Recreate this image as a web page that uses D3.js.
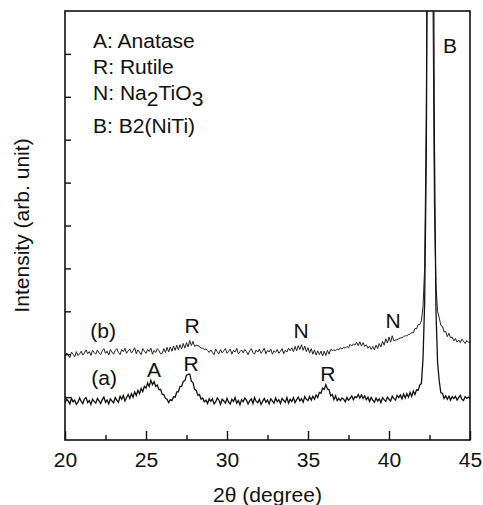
<!DOCTYPE html>
<html>
<head>
<meta charset="utf-8">
<script src="https://cdn.jsdelivr.net/npm/d3@7"></script>
<style>
  body { margin: 0; background: #fff; }
  svg text { font-family: "Liberation Sans", Arial, sans-serif; fill: #111; }
</style>
</head>
<body>
<div id="chart"></div>
<script>
'use strict';

/*
--------------------------------------------------------------
--- DATA
--------------------------------------------------------------
*/

var startAngle = 20; // first 2theta value of the scans
var angleStep = 0.1; // step of the scans

// (a) intensity, one row per degree (20.0 - 44.9), last value at 45.0
var scanA = [
  0.86, 0.95, 0.91, 0.84, 0.97, 0.89, 0.93, 0.83, 0.88, 0.98,
  0.90, 0.85, 0.96, 0.99, 0.87, 0.92, 0.83, 0.95, 0.90, 0.86,
  0.97, 0.91, 0.85, 0.94, 1.00, 0.88, 0.93, 0.84, 0.96, 0.91,
  0.87, 0.99, 0.93, 0.88, 1.02, 0.95, 1.04, 0.91, 0.99, 1.06,
  0.97, 1.08, 1.00, 1.12, 1.04, 1.16, 1.08, 1.20, 1.13, 1.25,
  1.21, 1.33, 1.25, 1.39, 1.29, 1.36, 1.25, 1.28, 1.17, 1.18,
  1.07, 1.06, 0.97, 0.95, 0.87, 0.94, 0.92, 1.01, 1.00, 1.12,
  1.12, 1.25, 1.25, 1.37, 1.38, 1.51, 1.53, 1.54, 1.37, 1.34,
  1.18, 1.16, 1.04, 1.06, 0.95, 0.98, 0.89, 0.93, 0.85, 0.96,
  0.90, 0.96, 0.84, 0.89, 0.98, 0.93, 0.83, 0.95, 0.91, 0.86,
  0.97, 0.88, 0.84, 0.95, 0.90, 0.99, 0.86, 0.92, 0.82, 0.94,
  0.89, 0.98, 0.93, 0.84, 0.91, 0.96, 0.85, 0.99, 0.90, 0.87,
  0.95, 0.83, 0.90, 0.97, 0.88, 0.93, 0.84, 0.96, 0.91, 0.86,
  0.98, 0.89, 0.94, 0.85, 0.97, 0.92, 0.88, 0.99, 0.86, 0.95,
  0.90, 0.99, 0.87, 0.94, 1.00, 0.91, 0.96, 0.88, 1.01, 0.95,
  0.92, 1.01, 0.93, 1.02, 0.95, 1.05, 0.99, 1.11, 1.09, 1.21,
  1.18, 1.29, 1.19, 1.17, 1.03, 1.06, 0.94, 1.03, 0.92, 0.97,
  0.92, 0.98, 0.95, 0.89, 0.99, 0.93, 0.97, 1.03, 0.94, 1.01,
  0.99, 1.06, 0.98, 1.05, 0.97, 1.03, 0.94, 1.00, 0.90, 0.99,
  0.93, 0.88, 0.98, 0.91, 0.96, 0.87, 0.99, 0.94, 0.90, 1.00,
  0.95, 0.91, 1.02, 0.97, 0.93, 1.04, 0.99, 1.05, 0.96, 1.07,
  0.98, 1.08, 1.00, 1.11, 1.02, 1.14, 1.06, 1.17, 1.16, 1.28,
  1.32, 1.90, 3.20, 6.50, 14.0, 25.0, 28.0, 16.0, 7.00, 3.00,
  1.80, 1.38, 1.10, 1.09, 0.97, 1.03, 0.95, 1.02, 0.93, 1.01,
  0.97, 1.02, 0.93, 0.99, 1.04, 0.95, 0.92, 1.01, 0.97, 1.00,
  0.96
];

// (b) intensity, same grid
var scanB = [
  1.95, 2.03, 1.98, 1.92, 2.05, 2.00, 1.94, 2.06, 1.97, 2.01,
  2.07, 1.98, 2.03, 2.10, 2.01, 2.06, 1.97, 2.09, 2.04, 2.00,
  2.10, 2.03, 1.99, 2.08, 2.13, 2.02, 2.07, 1.98, 2.11, 2.05,
  2.00, 2.09, 2.13, 2.04, 1.99, 2.11, 2.06, 2.14, 2.02, 2.08,
  2.12, 2.03, 2.08, 2.15, 2.01, 2.10, 2.05, 1.99, 2.13, 2.07,
  2.02, 2.11, 2.06, 2.14, 2.00, 2.09, 2.04, 2.13, 2.08, 2.01,
  2.02, 2.13, 2.04, 2.16, 2.05, 2.17, 2.07, 2.19, 2.09, 2.21,
  2.10, 2.22, 2.12, 2.25, 2.14, 2.27, 2.17, 2.32, 2.20, 2.30,
  2.18, 2.21, 2.20, 2.18, 2.14, 2.14, 2.11, 2.12, 2.09, 2.04,
  2.10, 2.04, 1.99, 2.12, 2.06, 2.01, 2.11, 2.03, 2.08, 2.13,
  2.02, 2.07, 2.12, 2.00, 2.09, 2.05, 2.14, 2.01, 2.06, 2.10,
  2.03, 2.11, 2.06, 1.99, 2.08, 2.13, 2.04, 2.00, 2.10, 2.05,
  2.12, 2.02, 2.07, 2.14, 2.01, 2.09, 2.05, 2.12, 2.00, 2.08,
  2.04, 2.11, 2.02, 2.07, 2.13, 2.01, 2.09, 2.05, 2.14, 2.08,
  2.15, 2.06, 2.18, 2.08, 2.20, 2.11, 2.22, 2.09, 2.19, 2.06,
  2.15, 2.03, 2.13, 2.00, 2.10, 1.98, 2.08, 1.99, 2.07, 1.96,
  2.07, 1.97, 2.09, 2.00, 2.11, 2.09, 2.10, 2.08, 2.12, 2.10,
  2.15, 2.12, 2.16, 2.14, 2.18, 2.15, 2.23, 2.19, 2.24, 2.21,
  2.28, 2.20, 2.29, 2.19, 2.27, 2.18, 2.22, 2.14, 2.19, 2.11,
  2.18, 2.10, 2.21, 2.13, 2.25, 2.17, 2.30, 2.21, 2.36, 2.26,
  2.40, 2.28, 2.43, 2.31, 2.33, 2.34, 2.36, 2.38, 2.38, 2.41,
  2.43, 2.43, 2.46, 2.47, 2.50, 2.50, 2.60, 2.59, 2.69, 2.69,
  2.78, 3.10, 4.00, 7.50, 16.0, 30.0, 22.0, 11.0, 5.50, 3.60,
  3.00, 2.85, 2.67, 2.65, 2.52, 2.53, 2.41, 2.49, 2.38, 2.40,
  2.31, 2.37, 2.28, 2.33, 2.27, 2.35, 2.30, 2.25, 2.32, 2.28,
  2.27
];

var xMajorTicks = [20, 25, 30, 35, 40, 45];
var xMinorTicks = [22.5, 27.5, 32.5, 37.5, 42.5];
var yTicks = [1, 2, 3, 4, 5, 6, 7, 8, 9];

// peak labels, placed at [2theta, intensity]
var peakLabels = ['(b)', 'R', 'N', 'N', 'B', '(a)', 'A', 'R', 'R'];
var peakAngles = [22.35, 27.84, 34.57, 40.25, 43.77, 22.41, 25.49, 27.78, 36.23];
var peakLevels = [2.38, 2.49, 2.38, 2.61, 9.02, 1.28, 1.47, 1.61, 1.38];

/*
--------------------------------------------------------------
--- PROPERTIES
--------------------------------------------------------------
*/

var width = 483;
var height = 505;
var margin = {'top': 11, 'right': 13, 'bottom': 65, 'left': 65};
var stretch = 1.08; // the original font is a bit wider than Arial
var fontSize = 19.5;

var svg = d3.select('#chart').append('svg')
  .attr('width', width)
  .attr('height', height);

var x = d3.scaleLinear()
  .domain([20, 45])
  .range([margin.left, width - margin.right]);

var y = d3.scaleLinear()
  .domain([0, 10])
  .range([height - margin.bottom, margin.top]);

// turn a scan into points
var toPoints = function(scan) {
  return scan.map(function(v, i) {
    return [startAngle + i * angleStep, v];
  });
};

// writes a (slightly stretched) text
var addText = function(parent, str, px, py, anchor) {
  return parent.append('text')
    .attr('transform', 'translate(' + px + ',' + py + ') scale(' + stretch + ',1)')
    .attr('text-anchor', anchor || 'start')
    .style('font-size', fontSize + 'px')
    .text(str);
};

/*
--------------------------------------------------------------
--- DRAW
--------------------------------------------------------------
*/

svg.append('clipPath')
  .attr('id', 'plot-clip')
  .append('rect')
  .attr('x', margin.left)
  .attr('y', margin.top)
  .attr('width', width - margin.left - margin.right)
  .attr('height', height - margin.top - margin.bottom);

var line = d3.line()
  .x(function(d) { return x(d[0]); })
  .y(function(d) { return y(d[1]); });

var curves = svg.append('g').attr('clip-path', 'url(#plot-clip)');

curves.append('path')
  .datum(toPoints(scanB))
  .attr('d', line)
  .attr('fill', 'none')
  .attr('stroke', '#222')
  .attr('stroke-width', 1.0);

curves.append('path')
  .datum(toPoints(scanA))
  .attr('d', line)
  .attr('fill', 'none')
  .attr('stroke', '#111')
  .attr('stroke-width', 1.3);

// x axis, ticks pointing inward
var xAxis = svg.append('g')
  .attr('transform', 'translate(0,' + (height - margin.bottom) + ')')
  .call(d3.axisBottom(x).tickValues(xMajorTicks).tickSize(-9).tickPadding(13)
    .tickFormat(d3.format('d')));

xAxis.selectAll('text')
  .attr('transform', 'scale(' + stretch + ',1)')
  .style('font-size', fontSize + 'px')
  .attr('fill', '#111');

svg.append('g')
  .attr('transform', 'translate(0,' + (height - margin.bottom) + ')')
  .call(d3.axisBottom(x).tickValues(xMinorTicks).tickSize(-5).tickFormat(''));

svg.append('g')
  .attr('transform', 'translate(' + margin.left + ',0)')
  .call(d3.axisLeft(y).tickValues(yTicks).tickSize(-6).tickFormat(''));

svg.selectAll('.domain').remove();
svg.selectAll('.tick line').attr('stroke', '#111').attr('stroke-width', 1.4);

// frame
svg.append('rect')
  .attr('x', margin.left)
  .attr('y', margin.top)
  .attr('width', width - margin.left - margin.right)
  .attr('height', height - margin.top - margin.bottom)
  .attr('fill', 'none')
  .attr('stroke', '#111')
  .attr('stroke-width', 1.6);

// axis titles
addText(svg, '2\u03b8 (degree)', (margin.left + width - margin.right) / 2, 502, 'middle');

svg.append('text')
  .attr('transform', 'translate(29,' + ((margin.top + height - margin.bottom) / 2) + ') rotate(-90) scale(' + stretch + ',1)')
  .attr('text-anchor', 'middle')
  .style('font-size', fontSize + 'px')
  .text('Intensity (arb. unit)');

// legend of the phases
var legend = svg.append('g');
addText(legend, 'A: Anatase', 93, 48);
addText(legend, 'R: Rutile', 93, 74);
var na = addText(legend, 'N: Na', 93, 100);
na.append('tspan').attr('dy', 6).text('2');
na.append('tspan').attr('dy', -6).text('TiO');
na.append('tspan').attr('dy', 6).text('3');
addText(legend, 'B: B2(NiTi)', 93, 133);

// peak labels
var labels = svg.append('g');
for (var i = 0; i < peakLabels.length; i++) {
  addText(labels, peakLabels[i], x(peakAngles[i]), y(peakLevels[i]), 'middle');
}
</script>
</body>
</html>
